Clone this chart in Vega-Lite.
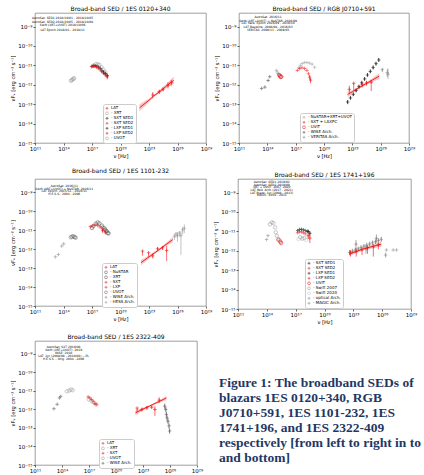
{
  "$schema": "https://vega.github.io/schema/vega-lite/v6.json",
  "padding": {"left": 10, "top": 5, "right": 0, "bottom": 0},
  "config": {
    "font": "DejaVu Sans",
    "view": {"stroke": "#777", "strokeWidth": 0.7},
    "title": {"fontSize": 6, "fontWeight": "normal", "offset": 1, "font": "DejaVu Sans", "color": "#000"},
    "axis": {"labelFontSize": 5.5, "titleFontSize": 5.2, "titleFontWeight": "normal", "grid": false, "domain": false, "tickSize": 2, "tickWidth": 0.6, "labelPadding": 1, "titlePadding": 2, "labelColor": "#000", "titleColor": "#000", "tickColor": "#000", "labelFlush": false},
    "legend": {"fillColor": "white", "strokeColor": "#cccccc", "padding": 2, "cornerRadius": 2, "labelFontSize": 4, "symbolSize": 8, "rowPadding": 0, "clipHeight": 4.6, "symbolStrokeWidth": 0.7, "labelOffset": 2, "labelBaseline": "middle"},
    "point": {"filled": false, "size": 12, "strokeWidth": 0.8}
  },
  "datasets": {
    "b1": [
      {"x": 1e22, "lo": 4.3e-14, "hi": 9.8e-14, "m": 6.5e-14},
      {"x": 1e23, "lo": 1.3e-13, "hi": 1.95e-13, "m": 1.6e-13},
      {"x": 3e23, "lo": 2.3e-13, "hi": 3.0e-13, "m": 2.6e-13},
      {"x": 1e24, "lo": 3.4e-13, "hi": 4.8e-13, "m": 4.0e-13},
      {"x": 1e25, "lo": 7.5e-13, "hi": 1.35e-12, "m": 1.0e-12},
      {"x": 4e25, "lo": 1.1e-12, "hi": 2.6e-12, "m": 1.7e-12}
    ],
    "p1": [
      {"s": "- UVOT", "x": 6e14, "y": 1.6e-12}, {"s": "- UVOT", "x": 7.5e14, "y": 1.75e-12}, {"s": "- UVOT", "x": 9e14, "y": 1.9e-12}, {"s": "- UVOT", "x": 1.1e15, "y": 2.0e-12}, {"s": "- UVOT", "x": 1.3e15, "y": 2.2e-12},
      {"s": "- XRT", "x": 1.5e17, "y": 1.0e-11}, {"s": "- XRT", "x": 2.5e17, "y": 1.15e-11}, {"s": "- XRT", "x": 4e17, "y": 1.15e-11}, {"s": "- XRT", "x": 6e17, "y": 1.05e-11}, {"s": "- XRT", "x": 1e18, "y": 8e-12}, {"s": "- XRT", "x": 1.6e18, "y": 6e-12}, {"s": "- XRT", "x": 2.5e18, "y": 4.5e-12},
      {"s": "- SXT SED1", "x": 1e17, "y": 9e-12}, {"s": "- SXT SED1", "x": 1.5e17, "y": 9.5e-12}, {"s": "- SXT SED1", "x": 2.2e17, "y": 9.5e-12}, {"s": "- SXT SED1", "x": 3.3e17, "y": 9e-12}, {"s": "- SXT SED1", "x": 5e17, "y": 8e-12}, {"s": "- SXT SED1", "x": 7.5e17, "y": 7e-12}, {"s": "- SXT SED1", "x": 1.1e18, "y": 5.5e-12},
      {"s": "- SXT SED2", "x": 9e16, "y": 8.5e-12}, {"s": "- SXT SED2", "x": 1.3e17, "y": 8.8e-12}, {"s": "- SXT SED2", "x": 2e17, "y": 8.8e-12}, {"s": "- SXT SED2", "x": 3e17, "y": 8.2e-12}, {"s": "- SXT SED2", "x": 4.5e17, "y": 7.2e-12}, {"s": "- SXT SED2", "x": 7e17, "y": 6e-12}, {"s": "- SXT SED2", "x": 1e18, "y": 4.8e-12},
      {"s": "- LXP SED1", "x": 1.6e18, "y": 4.5e-12, "lo": 3.8e-12, "hi": 5.2e-12}, {"s": "- LXP SED1", "x": 2.5e18, "y": 3.8e-12, "lo": 3.1e-12, "hi": 4.6e-12}, {"s": "- LXP SED1", "x": 4e18, "y": 3e-12, "lo": 2.3e-12, "hi": 3.8e-12},
      {"s": "- LXP SED2", "x": 1.6e18, "y": 4e-12, "lo": 3.3e-12, "hi": 4.8e-12}, {"s": "- LXP SED2", "x": 2.5e18, "y": 3.3e-12, "lo": 2.6e-12, "hi": 4.1e-12}, {"s": "- LXP SED2", "x": 4e18, "y": 2.6e-12, "lo": 1.9e-12, "hi": 3.4e-12},
      {"s": "LAT", "x": 2.5e23, "y": 3e-13, "lo": 2e-13, "hi": 4.2e-13}, {"s": "LAT", "x": 1.2e24, "y": 4.4e-13, "lo": 3.4e-13, "hi": 5.6e-13}, {"s": "LAT", "x": 3e24, "y": 5.8e-13, "lo": 4.6e-13, "hi": 7.2e-13}, {"s": "LAT", "x": 1e25, "y": 9.5e-13, "lo": 6.5e-13, "hi": 1.35e-12}, {"s": "LAT", "x": 2.2e25, "y": 1.3e-12, "lo": 9e-13, "hi": 1.8e-12}
    ],
    "a1": [
      {"x": 8e13, "y": 2.7e-9, "t": "AstroSat: SED1 2018/10/01 - 2018/10/05"},
      {"x": 8e13, "y": 1.8e-9, "t": "AstroSat: SED2 2018/10/05 - 2018/10/08"},
      {"x": 8e13, "y": 1.17e-9, "t": "Swift (XRT+UVOT) 2018/10/06"},
      {"x": 8e13, "y": 7.2e-10, "t": "LAT Epoch 2018/01 - 2018/11"}
    ],
    "b2": [
      {"x": 3.16e22, "lo": 2.3e-13, "hi": 4.3e-13, "m": 3.16e-13},
      {"x": 1e23, "lo": 3.6e-13, "hi": 5.3e-13, "m": 4.4e-13},
      {"x": 1e24, "lo": 7.5e-13, "hi": 9.7e-13, "m": 8.5e-13},
      {"x": 1e25, "lo": 1.3e-12, "hi": 2.0e-12, "m": 1.62e-12},
      {"x": 7e25, "lo": 2.0e-12, "hi": 3.9e-12, "m": 2.8e-12}
    ],
    "p2": [
      {"s": "LAT Arch.", "x": 3.2e22, "y": 1.3e-13, "lo": 1.0e-13, "hi": 1.65e-13}, {"s": "LAT Arch.", "x": 6.3e22, "y": 2.1e-13, "lo": 1.7e-13, "hi": 2.6e-13}, {"s": "LAT Arch.", "x": 1.26e23, "y": 3.2e-13, "lo": 2.6e-13, "hi": 4.0e-13}, {"s": "LAT Arch.", "x": 2.5e23, "y": 5.1e-13, "lo": 4.1e-13, "hi": 6.4e-13}, {"s": "LAT Arch.", "x": 5e23, "y": 8.1e-13, "lo": 6.5e-13, "hi": 1.0e-12}, {"s": "LAT Arch.", "x": 1e24, "y": 1.26e-12, "lo": 1.0e-12, "hi": 1.6e-12}, {"s": "LAT Arch.", "x": 2e24, "y": 2e-12, "lo": 1.6e-12, "hi": 2.5e-12}, {"s": "LAT Arch.", "x": 4e24, "y": 3.2e-12, "lo": 2.6e-12, "hi": 4.0e-12}, {"s": "LAT Arch.", "x": 8e24, "y": 4.9e-12, "lo": 3.9e-12, "hi": 6.1e-12}, {"s": "LAT Arch.", "x": 1.6e25, "y": 7.8e-12, "lo": 6.2e-12, "hi": 9.8e-12}, {"s": "LAT Arch.", "x": 3.2e25, "y": 1.23e-11, "lo": 9.8e-12, "hi": 1.54e-11}, {"s": "LAT Arch.", "x": 6.3e25, "y": 1.9e-11, "lo": 1.5e-11, "hi": 2.4e-11},
      {"s": "- WISE Arch.", "x": 2.5e13, "y": 6.5e-13}, {"s": "- WISE Arch.", "x": 5.5e13, "y": 7.6e-13}, {"s": "- WISE Arch.", "x": 1.2e14, "y": 1.66e-12}, {"s": "- WISE Arch.", "x": 1.8e14, "y": 2.6e-12},
      {"s": "- NuSTAR+XRT+UVOT", "x": 9e14, "y": 5.5e-12}, {"s": "- NuSTAR+XRT+UVOT", "x": 1.1e15, "y": 4.6e-12}, {"s": "- NuSTAR+XRT+UVOT", "x": 1.4e15, "y": 3.8e-12}, {"s": "- NuSTAR+XRT+UVOT", "x": 1.7e15, "y": 3.4e-12},
      {"s": "- NuSTAR+XRT+UVOT", "x": 2.2e17, "y": 7.6e-12}, {"s": "- NuSTAR+XRT+UVOT", "x": 3.2e17, "y": 1.0e-11}, {"s": "- NuSTAR+XRT+UVOT", "x": 5e17, "y": 1.25e-11}, {"s": "- NuSTAR+XRT+UVOT", "x": 9e17, "y": 1.4e-11}, {"s": "- NuSTAR+XRT+UVOT", "x": 1.6e18, "y": 1.4e-11}, {"s": "- NuSTAR+XRT+UVOT", "x": 3e18, "y": 1.3e-11}, {"s": "- NuSTAR+XRT+UVOT", "x": 5.5e18, "y": 1.15e-11}, {"s": "- NuSTAR+XRT+UVOT", "x": 1e19, "y": 8e-12},
      {"s": "- SXT + LAXPC", "x": 1.5e17, "y": 5.5e-12}, {"s": "- SXT + LAXPC", "x": 2.6e17, "y": 6.9e-12}, {"s": "- SXT + LAXPC", "x": 4.7e17, "y": 7.6e-12}, {"s": "- SXT + LAXPC", "x": 8.9e17, "y": 6.9e-12}, {"s": "- SXT + LAXPC", "x": 1.55e18, "y": 5.5e-12}, {"s": "- SXT + LAXPC", "x": 2.3e18, "y": 3.7e-12}, {"s": "- SXT + LAXPC", "x": 3e18, "y": 2.5e-12, "lo": 1.8e-12, "hi": 3.2e-12}, {"s": "- SXT + LAXPC", "x": 3.8e18, "y": 1.74e-12, "lo": 1.2e-12, "hi": 2.3e-12},
      {"s": "- UVIT", "x": 1.8e15, "y": 3.2e-12}, {"s": "- UVIT", "x": 2.2e15, "y": 2.8e-12}, {"s": "- UVIT", "x": 2.6e15, "y": 2.5e-12}, {"s": "- UVIT", "x": 3e15, "y": 2.6e-12},
      {"s": "- VERITAS Arch.", "x": 1.5e26, "y": 6e-12, "lo": 4.5e-12, "hi": 7.5e-12}, {"s": "- VERITAS Arch.", "x": 5e26, "y": 4.2e-12, "lo": 2.5e-12, "hi": 6.5e-12}, {"s": "- VERITAS Arch.", "x": 6e26, "y": 3.5e-12, "lo": 2e-12, "hi": 7e-12},
      {"s": "LAT", "x": 4.8e22, "y": 5.8e-13, "lo": 3.5e-13, "hi": 9e-13}, {"s": "LAT", "x": 1.4e23, "y": 1.2e-12, "lo": 5e-13, "hi": 1.25e-12}, {"s": "LAT", "x": 1.1e24, "y": 1.0e-12, "lo": 7.5e-13, "hi": 1.3e-12}, {"s": "LAT", "x": 3.2e24, "y": 1.25e-12, "lo": 9e-13, "hi": 1.6e-12}, {"s": "LAT", "x": 1e25, "y": 1.35e-12, "lo": 4.7e-13, "hi": 1.8e-12}
    ],
    "a2": [
      {"x": 1.2e14, "y": 3.2e-9, "t": "AstroSat: 2016/11"},
      {"x": 1.2e14, "y": 2.1e-9, "t": "Swift (XRT+UVOT) + NuSTAR: 2016/09"},
      {"x": 1.2e14, "y": 1.5e-9, "t": "LAT flare: Epoch 2016/09 - 2016/10"},
      {"x": 1.2e14, "y": 1.0e-9, "t": "LAT Baseline: 2008/08 - 2016/03"},
      {"x": 1.2e14, "y": 6.9e-10, "t": "VERITAS: 2008/11 - 2009/03"}
    ],
    "b3": [
      {"x": 1.45e22, "lo": 1.4e-13, "hi": 2.7e-13, "m": 1.95e-13},
      {"x": 1e23, "lo": 3.2e-13, "hi": 4.7e-13, "m": 3.9e-13},
      {"x": 1e24, "lo": 7.8e-13, "hi": 1.02e-12, "m": 8.9e-13},
      {"x": 1e25, "lo": 1.7e-12, "hi": 2.6e-12, "m": 2.1e-12},
      {"x": 3.1e25, "lo": 2.3e-12, "hi": 4.3e-12, "m": 3.16e-12}
    ],
    "p3": [
      {"s": "- WISE Arch.", "x": 1.38e13, "y": 3.9e-13}, {"s": "- WISE Arch.", "x": 2.9e13, "y": 5.2e-13}, {"s": "- WISE Arch.", "x": 6.5e13, "y": 1.45e-12}, {"s": "- WISE Arch.", "x": 1.05e14, "y": 1.9e-12},
      {"s": "- UVOT", "x": 6e14, "y": 4.2e-12}, {"s": "- UVOT", "x": 8e14, "y": 4.6e-12}, {"s": "- UVOT", "x": 1.1e15, "y": 4.8e-12}, {"s": "- UVOT", "x": 1.5e15, "y": 4.3e-12}, {"s": "- UVOT", "x": 1.9e15, "y": 4.0e-12},
      {"s": "- XRT", "x": 1e17, "y": 1.3e-11}, {"s": "- XRT", "x": 1.3e17, "y": 1.6e-11}, {"s": "- XRT", "x": 2.5e17, "y": 2.2e-11}, {"s": "- XRT", "x": 4e17, "y": 2.57e-11}, {"s": "- XRT", "x": 5.9e17, "y": 2.3e-11}, {"s": "- XRT", "x": 1.1e18, "y": 1.74e-11}, {"s": "- XRT", "x": 2e18, "y": 1.26e-11}, {"s": "- XRT", "x": 3e18, "y": 9.3e-12}, {"s": "- XRT", "x": 4.5e18, "y": 6.9e-12},
      {"s": "- NuSTAR", "x": 1.3e18, "y": 1.38e-11}, {"s": "- NuSTAR", "x": 2.5e18, "y": 1.05e-11}, {"s": "- NuSTAR", "x": 3.8e18, "y": 8.5e-12}, {"s": "- NuSTAR", "x": 5.6e18, "y": 6.8e-12},
      {"s": "- SXT", "x": 6.6e16, "y": 1.55e-11}, {"s": "- SXT", "x": 1.2e17, "y": 1.74e-11}, {"s": "- SXT", "x": 2.2e17, "y": 1.9e-11}, {"s": "- SXT", "x": 4e17, "y": 1.74e-11}, {"s": "- SXT", "x": 6.9e17, "y": 1.48e-11}, {"s": "- SXT", "x": 1.3e18, "y": 1.17e-11},
      {"s": "- LXP", "x": 1.3e18, "y": 9.3e-12, "lo": 7.5e-12, "hi": 1.1e-11}, {"s": "- LXP", "x": 2.5e18, "y": 7.9e-12, "lo": 6e-12, "hi": 9.8e-12},
      {"s": "- HESS Arch.", "x": 4.7e25, "y": 4.7e-12, "lo": 3e-12, "hi": 6.5e-12}, {"s": "- HESS Arch.", "x": 7e25, "y": 6.2e-12, "lo": 4e-12, "hi": 8e-12}, {"s": "- HESS Arch.", "x": 1e26, "y": 5.2e-12, "lo": 2.5e-12, "hi": 8e-12}, {"s": "- HESS Arch.", "x": 1.55e26, "y": 6.9e-12, "lo": 4.5e-12, "hi": 9e-12}, {"s": "- HESS Arch.", "x": 2.3e26, "y": 5.2e-12, "lo": 5e-13, "hi": 9e-12}, {"s": "- HESS Arch.", "x": 3.5e26, "y": 1.05e-11, "lo": 6e-12, "hi": 1.5e-11}, {"s": "- HESS Arch.", "x": 5.2e26, "y": 1.26e-11, "lo": 7e-12, "hi": 2e-11},
      {"s": "LAT", "x": 2.1e22, "y": 7.9e-13, "lo": 4.5e-13, "hi": 7.9e-13}, {"s": "LAT", "x": 9e22, "y": 6.5e-13, "lo": 4e-13, "hi": 6.5e-13}, {"s": "LAT", "x": 2.5e23, "y": 4.4e-13, "lo": 3.2e-13, "hi": 6e-13}, {"s": "LAT", "x": 8e23, "y": 1.05e-12, "lo": 8e-13, "hi": 1.3e-12}, {"s": "LAT", "x": 2.7e24, "y": 1.17e-12, "lo": 9e-13, "hi": 1.45e-12}, {"s": "LAT", "x": 7.2e24, "y": 8.5e-13, "lo": 2.4e-13, "hi": 1.5e-12}
    ],
    "a3": [
      {"x": 1.2e14, "y": 2.2e-9, "t": "AstroSat: 2016/11"},
      {"x": 1.2e14, "y": 1.6e-9, "t": "Swift (XRT+UVOT) + NuSTAR: 2016/11"},
      {"x": 1.2e14, "y": 1.17e-9, "t": "LAT Epoch: 2015/11 - 2016/11"},
      {"x": 1.2e14, "y": 8.5e-10, "t": "H.E.S.S.: 2004 - 2006"}
    ],
    "b4": [
      {"x": 3.8e22, "lo": 5.4e-13, "hi": 8.5e-13, "m": 6.8e-13},
      {"x": 1e24, "lo": 1.08e-12, "hi": 1.4e-12, "m": 1.23e-12},
      {"x": 8e25, "lo": 1.6e-12, "hi": 3e-12, "m": 2.2e-12}
    ],
    "p4": [
      {"s": "LAT Arch.", "x": 4e22, "y": 8.3e-13, "lo": 6.2e-13, "hi": 1.1e-12}, {"s": "LAT Arch.", "x": 8e22, "y": 9.5e-13, "lo": 7.1e-13, "hi": 1.26e-12}, {"s": "LAT Arch.", "x": 1.6e23, "y": 1.1e-12, "lo": 8.2e-13, "hi": 1.46e-12}, {"s": "LAT Arch.", "x": 3.2e23, "y": 1.26e-12, "lo": 9.5e-13, "hi": 1.68e-12}, {"s": "LAT Arch.", "x": 6.3e23, "y": 1.48e-12, "lo": 1.1e-12, "hi": 1.97e-12}, {"s": "LAT Arch.", "x": 1.26e24, "y": 1.7e-12, "lo": 1.28e-12, "hi": 2.26e-12}, {"s": "LAT Arch.", "x": 2.5e24, "y": 1.95e-12, "lo": 1.46e-12, "hi": 2.6e-12}, {"s": "LAT Arch.", "x": 5e24, "y": 2.24e-12, "lo": 1.68e-12, "hi": 2.98e-12}, {"s": "LAT Arch.", "x": 1e25, "y": 2.57e-12, "lo": 1.93e-12, "hi": 3.42e-12}, {"s": "LAT Arch.", "x": 2e25, "y": 2.95e-12, "lo": 2.2e-12, "hi": 3.92e-12}, {"s": "LAT Arch.", "x": 4e25, "y": 3.4e-12, "lo": 2.55e-12, "hi": 4.5e-12}, {"s": "LAT Arch.", "x": 8e25, "y": 3.9e-12, "lo": 2.9e-12, "hi": 5.2e-12},
      {"s": "LAT Arch.", "x": 1.9e23, "y": 2.2e-12, "lo": 1.2e-12, "hi": 3.6e-12}, {"s": "LAT Arch.", "x": 2.1e24, "y": 1.23e-12, "lo": 7e-13, "hi": 2e-12}, {"s": "LAT Arch.", "x": 2.5e25, "y": 4.4e-12, "lo": 2.6e-12, "hi": 7e-12},
      {"s": "LAT", "x": 5e22, "y": 8e-13, "lo": 5e-13, "hi": 1.1e-12}, {"s": "LAT", "x": 2e23, "y": 9e-13, "lo": 5e-13, "hi": 1.3e-12}, {"s": "LAT", "x": 8e23, "y": 1.1e-12, "lo": 6e-13, "hi": 1.5e-12}, {"s": "LAT", "x": 3e24, "y": 1.4e-12, "lo": 7e-13, "hi": 1.9e-12}, {"s": "LAT", "x": 1.2e25, "y": 1.6e-12, "lo": 5e-13, "hi": 2.2e-12}, {"s": "LAT", "x": 4e25, "y": 2e-12, "lo": 1.2e-12, "hi": 2.6e-12},
      {"s": "- optical Arch.", "x": 9.5e13, "y": 3.8e-12}, {"s": "- optical Arch.", "x": 1.3e14, "y": 6e-12},
      {"s": "- Swift 2007", "x": 2.1e14, "y": 2.3e-11}, {"s": "- Swift 2007", "x": 3.2e14, "y": 2.9e-11}, {"s": "- Swift 2007", "x": 4.8e14, "y": 2.7e-11}, {"s": "- Swift 2007", "x": 7.2e14, "y": 1.6e-11}, {"s": "- Swift 2007", "x": 8.5e14, "y": 8.9e-12}, {"s": "- Swift 2007", "x": 1.1e15, "y": 5.9e-12},
      {"s": "- Swift 2007", "x": 3e17, "y": 5e-12}, {"s": "- Swift 2007", "x": 5e17, "y": 4.2e-12}, {"s": "- Swift 2007", "x": 8e17, "y": 4.5e-12},
      {"s": "- Swift 2020", "x": 1.4e15, "y": 4.4e-12}, {"s": "- Swift 2020", "x": 1.9e15, "y": 3.7e-12}, {"s": "- Swift 2020", "x": 2.5e15, "y": 3.3e-12}, {"s": "- Swift 2020", "x": 2e17, "y": 4e-12}, {"s": "- Swift 2020", "x": 1.3e18, "y": 3.6e-12},
      {"s": "- UVIT", "x": 1.6e15, "y": 3.7e-12}, {"s": "- UVIT", "x": 2.5e15, "y": 2.9e-12}, {"s": "- UVIT", "x": 3.1e15, "y": 2.5e-12},
      {"s": "- SXT SED1", "x": 1.6e17, "y": 1.1e-11}, {"s": "- SXT SED1", "x": 2.5e17, "y": 1.25e-11}, {"s": "- SXT SED1", "x": 4e17, "y": 1.28e-11}, {"s": "- SXT SED1", "x": 6.3e17, "y": 1.2e-11}, {"s": "- SXT SED1", "x": 1e18, "y": 1.1e-11}, {"s": "- SXT SED1", "x": 1.6e18, "y": 1e-11},
      {"s": "- SXT SED2", "x": 1.6e17, "y": 8.5e-12}, {"s": "- SXT SED2", "x": 2.5e17, "y": 9.5e-12}, {"s": "- SXT SED2", "x": 4e17, "y": 9.5e-12}, {"s": "- SXT SED2", "x": 6.3e17, "y": 8.5e-12}, {"s": "- SXT SED2", "x": 1e18, "y": 7.5e-12},
      {"s": "- LXP SED1", "x": 2e18, "y": 1e-11, "lo": 8e-12, "hi": 1.2e-11}, {"s": "- LXP SED1", "x": 3e18, "y": 8e-12, "lo": 6e-12, "hi": 1e-11},
      {"s": "- LXP SED2", "x": 2e18, "y": 6e-12, "lo": 4e-12, "hi": 8e-12}, {"s": "- LXP SED2", "x": 3e18, "y": 4.5e-12, "lo": 2.5e-12, "hi": 6.5e-12},
      {"s": "- MAGIC Arch.", "x": 2.8e26, "y": 1.1e-12}, {"s": "- MAGIC Arch.", "x": 1.4e27, "y": 1.1e-12}, {"s": "- MAGIC Arch.", "x": 3.1e27, "y": 1.1e-12}, {"s": "- MAGIC Arch.", "x": 2.3e26, "y": 6e-13, "lo": 4.5e-13, "hi": 8e-13}
    ],
    "a4": [
      {"x": 3.2e14, "y": 3.5e-9, "t": "AstroSat: SED1 2019/02"},
      {"x": 3.2e14, "y": 2.6e-9, "t": "AstroSat: SED2 2019/09"},
      {"x": 3.2e14, "y": 1.9e-9, "t": "XRT + UVOT: 2007, 2020"},
      {"x": 3.2e14, "y": 1.4e-9, "t": "LAT Red. Arch (2017 - 2021)"},
      {"x": 3.2e14, "y": 1.0e-9, "t": "LAT Blaze: 1yr (2008 - 2013)"},
      {"x": 3.2e14, "y": 7.4e-10, "t": "MAGIC: 2010 - 2011"}
    ],
    "b5": [
      {"x": 1.45e22, "lo": 4.8e-13, "hi": 9e-13, "m": 6.6e-13},
      {"x": 1e23, "lo": 8.8e-13, "hi": 1.25e-12, "m": 1.05e-12},
      {"x": 1e24, "lo": 1.6e-12, "hi": 1.98e-12, "m": 1.78e-12},
      {"x": 1e25, "lo": 2.5e-12, "hi": 3.6e-12, "m": 3.0e-12},
      {"x": 4e25, "lo": 3.2e-12, "hi": 5.5e-12, "m": 4.2e-12}
    ],
    "p5": [
      {"s": "- WISE Arch.", "x": 1.26e13, "y": 1.1e-12}, {"s": "- WISE Arch.", "x": 2.9e13, "y": 1.9e-12}, {"s": "- WISE Arch.", "x": 5.2e13, "y": 4.2e-12}, {"s": "- WISE Arch.", "x": 7.2e13, "y": 5.1e-12},
      {"s": "- UVOT", "x": 3.5e14, "y": 9.6e-12}, {"s": "- UVOT", "x": 6.3e14, "y": 1.05e-11}, {"s": "- UVOT", "x": 1e15, "y": 1.2e-11}, {"s": "- UVOT", "x": 1.5e15, "y": 1.1e-11},
      {"s": "- XRT", "x": 9.5e16, "y": 3.5e-12}, {"s": "- XRT", "x": 1.9e17, "y": 2.8e-12}, {"s": "- XRT", "x": 3.6e17, "y": 2.3e-12}, {"s": "- XRT", "x": 6.5e17, "y": 1.86e-12},
      {"s": "- SXT", "x": 8e16, "y": 4.8e-12}, {"s": "- SXT", "x": 1.23e17, "y": 4.2e-12}, {"s": "- SXT", "x": 1.86e17, "y": 3.5e-12}, {"s": "- SXT", "x": 2.8e17, "y": 2.8e-12}, {"s": "- SXT", "x": 4.3e17, "y": 2.1e-12}, {"s": "- SXT", "x": 6.5e17, "y": 1.86e-12},
      {"s": "LAT", "x": 2.2e22, "y": 1.2e-12, "lo": 7e-13, "hi": 1.2e-12}, {"s": "LAT", "x": 7.6e22, "y": 1e-12, "lo": 8e-13, "hi": 1.25e-12}, {"s": "LAT", "x": 2.7e23, "y": 1.23e-12, "lo": 1e-12, "hi": 1.5e-12}, {"s": "LAT", "x": 9.3e23, "y": 1.32e-12, "lo": 1.1e-12, "hi": 1.6e-12}, {"s": "LAT", "x": 2.1e24, "y": 1e-12, "lo": 4.4e-13, "hi": 1.5e-12}, {"s": "LAT", "x": 6.3e24, "y": 3.2e-12, "lo": 2.2e-12, "hi": 4.5e-12},
      {"s": "HESS", "x": 2.6e25, "y": 1.5e-12, "lo": 1.05e-12, "hi": 2.1e-12}, {"s": "HESS", "x": 3.4e25, "y": 1e-12, "lo": 7e-13, "hi": 1.4e-12}, {"s": "HESS", "x": 4e25, "y": 5.4e-13, "lo": 3.8e-13, "hi": 7.6e-13}, {"s": "HESS", "x": 4.7e25, "y": 3.5e-13, "lo": 2.45e-13, "hi": 4.9e-13}, {"s": "HESS", "x": 6e25, "y": 2.3e-13, "lo": 1.6e-13, "hi": 3.2e-13}, {"s": "HESS", "x": 7.8e25, "y": 1.3e-13, "lo": 9e-14, "hi": 1.8e-13}, {"s": "HESS", "x": 9.1e25, "y": 6.9e-14, "lo": 4.8e-14, "hi": 9.7e-14}
    ],
    "a5": [
      {"x": 1.5e14, "y": 2.45e-9, "t": "AstroSat: SXT 2019/08"},
      {"x": 1.5e14, "y": 1.6e-9, "t": "Swift (XRT+UVOT): 2019"},
      {"x": 1.5e14, "y": 1.17e-9, "t": "WISE: 2010"},
      {"x": 1.5e14, "y": 8.1e-10, "t": "LAT: 2yr (2008/08 - 2010/08) ---PL"},
      {"x": 1.5e14, "y": 5.6e-10, "t": "H.E.S.S. - Orig: 2004 - 2006"}
    ],
    "cap": [
      {"ln": 0, "t": "Figure 1:  The broadband SEDs of"},
      {"ln": 1, "t": "blazars 1ES 0120+340, RGB"},
      {"ln": 2, "t": "J0710+591, 1ES 1101-232, 1ES"},
      {"ln": 3, "t": "1741+196, and 1ES 2322-409"},
      {"ln": 4, "t": "respectively [from left to right in top"},
      {"ln": 5, "t": "and bottom]"}
    ]
  },
  "spacing": 7,
  "resolve": {"scale": {"color": "independent", "shape": "independent"}, "legend": {"color": "independent", "shape": "independent"}},
  "vconcat": [
    {
      "spacing": 1,
      "resolve": {"scale": {"color": "independent", "shape": "independent"}, "legend": {"color": "independent", "shape": "independent"}},
      "hconcat": [
        {
          "title": "Broad-band SED / 1ES 0120+340",
          "width": 171, "height": 130,
          "encoding": {"x": {"field": "x", "type": "quantitative", "title": "ν [Hz]", "scale": {"type": "log", "domain": [1e11, 1e29], "nice": false}, "axis": {"values": [1e11, 1e14, 1e17, 1e20, 1e23, 1e26, 1e29], "labelExpr": "['10¹¹','','','10¹⁴','','','10¹⁷','','','10²⁰','','','10²³','','','10²⁶','','','10²⁹'][round(log(datum.value)/LN10)-11]"}}},
          "layer": [
            {"data": {"name": "b1"}, "mark": {"type": "area", "color": "#ffb0b0", "opacity": 0.8, "clip": true}, "encoding": {"y": {"field": "lo", "type": "quantitative", "title": "νFᵥ [erg cm⁻² s⁻¹]", "scale": {"type": "log", "domain": [1e-15, 5e-9], "nice": false}, "axis": {"values": [1e-15, 1e-14, 1e-13, 1e-12, 1e-11, 1e-10, 1e-9], "labelExpr": "['10⁻¹⁵','10⁻¹⁴','10⁻¹³','10⁻¹²','10⁻¹¹','10⁻¹⁰','10⁻⁹'][round(log(datum.value)/LN10)+15]"}}, "y2": {"field": "hi"}}},
            {"data": {"name": "b1"}, "mark": {"type": "line", "color": "#ee1111", "strokeWidth": 0.9, "clip": true}, "encoding": {"y": {"field": "m", "type": "quantitative", "title": "νFᵥ [erg cm⁻² s⁻¹]", "scale": {"type": "log", "domain": [1e-15, 5e-9], "nice": false}}}},
            {"data": {"name": "p1"}, "mark": {"type": "point", "clip": true}, "encoding": {
              "y": {"field": "y", "type": "quantitative", "title": "νFᵥ [erg cm⁻² s⁻¹]", "scale": {"type": "log", "domain": [1e-15, 5e-9], "nice": false}},
              "color": {"field": "s", "type": "nominal", "scale": {"domain": ["LAT", "- XRT", "- SXT SED1", "- SXT SED2", "- LXP SED1", "- LXP SED2", "- UVOT"], "range": ["#ee1111", "#a0a0a0", "#111111", "#ee1111", "#111111", "#ee1111", "#a0a0a0"]}, "legend": {"title": null, "orient": "none", "legendX": 68, "legendY": 91}},
              "shape": {"field": "s", "type": "nominal", "scale": {"domain": ["LAT", "- XRT", "- SXT SED1", "- SXT SED2", "- LXP SED1", "- LXP SED2", "- UVOT"], "range": ["M-1,0H1M0,-1V1", "circle", "M-1,0H1M0,-1V1", "M-1,0H1M0,-1V1", "M-1,0H1M0,-1V1", "M-1,0H1M0,-1V1", "circle"]}, "legend": {"title": null, "orient": "none", "legendX": 68, "legendY": 91}}}},
            {"data": {"name": "p1"}, "transform": [{"filter": "isValid(datum.lo)"}], "mark": {"type": "rule", "strokeWidth": 0.6, "clip": true}, "encoding": {
              "y": {"field": "lo", "type": "quantitative", "title": "νFᵥ [erg cm⁻² s⁻¹]", "scale": {"type": "log", "domain": [1e-15, 5e-9], "nice": false}}, "y2": {"field": "hi"},
              "color": {"field": "s", "type": "nominal", "scale": {"domain": ["LAT", "- XRT", "- SXT SED1", "- SXT SED2", "- LXP SED1", "- LXP SED2", "- UVOT"], "range": ["#ee1111", "#a0a0a0", "#111111", "#ee1111", "#111111", "#ee1111", "#a0a0a0"]}}}},
            {"data": {"name": "a1"}, "mark": {"type": "text", "fontSize": 3, "align": "center", "color": "#000"}, "encoding": {"y": {"field": "y", "type": "quantitative", "title": "νFᵥ [erg cm⁻² s⁻¹]", "scale": {"type": "log", "domain": [1e-15, 5e-9], "nice": false}}, "text": {"field": "t"}}}
          ]
        },
        {
          "title": "Broad-band SED / RGB J0710+591",
          "width": 170, "height": 130,
          "encoding": {"x": {"field": "x", "type": "quantitative", "title": "ν [Hz]", "scale": {"type": "log", "domain": [1e11, 1e29], "nice": false}, "axis": {"values": [1e11, 1e14, 1e17, 1e20, 1e23, 1e26, 1e29], "labelExpr": "['10¹¹','','','10¹⁴','','','10¹⁷','','','10²⁰','','','10²³','','','10²⁶','','','10²⁹'][round(log(datum.value)/LN10)-11]"}}},
          "layer": [
            {"data": {"name": "b2"}, "mark": {"type": "area", "color": "#ffb0b0", "opacity": 0.8, "clip": true}, "encoding": {"y": {"field": "lo", "type": "quantitative", "title": "νFᵥ [erg cm⁻² s⁻¹]", "scale": {"type": "log", "domain": [1e-15, 5e-9], "nice": false}, "axis": {"values": [1e-15, 1e-14, 1e-13, 1e-12, 1e-11, 1e-10, 1e-9], "labelExpr": "['10⁻¹⁵','10⁻¹⁴','10⁻¹³','10⁻¹²','10⁻¹¹','10⁻¹⁰','10⁻⁹'][round(log(datum.value)/LN10)+15]"}}, "y2": {"field": "hi"}}},
            {"data": {"name": "p2"}, "mark": {"type": "point", "clip": true}, "encoding": {
              "y": {"field": "y", "type": "quantitative", "title": "νFᵥ [erg cm⁻² s⁻¹]", "scale": {"type": "log", "domain": [1e-15, 5e-9], "nice": false}},
              "color": {"field": "s", "type": "nominal", "scale": {"domain": ["- NuSTAR+XRT+UVOT", "- SXT + LAXPC", "- UVIT", "- WISE Arch.", "- VERITAS Arch.", "LAT", "LAT Arch."], "range": ["#a0a0a0", "#ee1111", "#ee1111", "#444444", "#888888", "#ee1111", "#111111"]}, "legend": {"title": null, "orient": "none", "legendX": 61, "legendY": 100, "values": ["- NuSTAR+XRT+UVOT", "- SXT + LAXPC", "- UVIT", "- WISE Arch.", "- VERITAS Arch."]}},
              "shape": {"field": "s", "type": "nominal", "scale": {"domain": ["- NuSTAR+XRT+UVOT", "- SXT + LAXPC", "- UVIT", "- WISE Arch.", "- VERITAS Arch.", "LAT", "LAT Arch."], "range": ["M-1,0H1M0,-1V1", "M-1,0H1M0,-1V1", "circle", "M-1,0H1M0,-1V1", "M-1,0H1M0,-1V1", "M-1,0H1M0,-1V1", "M-1,0H1M0,-1V1"]}, "legend": {"title": null, "orient": "none", "legendX": 61, "legendY": 100, "values": ["- NuSTAR+XRT+UVOT", "- SXT + LAXPC", "- UVIT", "- WISE Arch.", "- VERITAS Arch."]}}}},
            {"data": {"name": "p2"}, "transform": [{"filter": "isValid(datum.lo)"}], "mark": {"type": "rule", "strokeWidth": 0.6, "clip": true}, "encoding": {
              "y": {"field": "lo", "type": "quantitative", "title": "νFᵥ [erg cm⁻² s⁻¹]", "scale": {"type": "log", "domain": [1e-15, 5e-9], "nice": false}}, "y2": {"field": "hi"},
              "color": {"field": "s", "type": "nominal", "scale": {"domain": ["- NuSTAR+XRT+UVOT", "- SXT + LAXPC", "- UVIT", "- WISE Arch.", "- VERITAS Arch.", "LAT", "LAT Arch."], "range": ["#a0a0a0", "#ee1111", "#ee1111", "#444444", "#888888", "#ee1111", "#111111"]}}}},
            {"data": {"name": "b2"}, "mark": {"type": "line", "color": "#ee1111", "strokeWidth": 0.9, "clip": true}, "encoding": {"y": {"field": "m", "type": "quantitative", "title": "νFᵥ [erg cm⁻² s⁻¹]", "scale": {"type": "log", "domain": [1e-15, 5e-9], "nice": false}}}},
            {"data": {"name": "a2"}, "mark": {"type": "text", "fontSize": 3, "align": "center", "color": "#000"}, "encoding": {"y": {"field": "y", "type": "quantitative", "title": "νFᵥ [erg cm⁻² s⁻¹]", "scale": {"type": "log", "domain": [1e-15, 5e-9], "nice": false}}, "text": {"field": "t"}}}
          ]
        }
      ]
    },
    {
      "spacing": 0,
      "resolve": {"scale": {"color": "independent", "shape": "independent"}, "legend": {"color": "independent", "shape": "independent"}},
      "hconcat": [
        {
          "title": {"text": "Broad-band SED / 1ES 1101-232", "offset": 5},
          "width": 171, "height": 127,
          "encoding": {"x": {"field": "x", "type": "quantitative", "title": "ν [Hz]", "scale": {"type": "log", "domain": [1e11, 1e29], "nice": false}, "axis": {"values": [1e11, 1e14, 1e17, 1e20, 1e23, 1e26, 1e29], "labelExpr": "['10¹¹','','','10¹⁴','','','10¹⁷','','','10²⁰','','','10²³','','','10²⁶','','','10²⁹'][round(log(datum.value)/LN10)-11]"}}},
          "layer": [
            {"data": {"name": "b3"}, "mark": {"type": "area", "color": "#ffb0b0", "opacity": 0.8, "clip": true}, "encoding": {"y": {"field": "lo", "type": "quantitative", "title": "νFᵥ [erg cm⁻² s⁻¹]", "scale": {"type": "log", "domain": [1e-15, 5e-9], "nice": false}, "axis": {"values": [1e-15, 1e-14, 1e-13, 1e-12, 1e-11, 1e-10, 1e-9], "labelExpr": "['10⁻¹⁵','10⁻¹⁴','10⁻¹³','10⁻¹²','10⁻¹¹','10⁻¹⁰','10⁻⁹'][round(log(datum.value)/LN10)+15]"}}, "y2": {"field": "hi"}}},
            {"data": {"name": "b3"}, "mark": {"type": "line", "color": "#ee1111", "strokeWidth": 0.9, "clip": true}, "encoding": {"y": {"field": "m", "type": "quantitative", "title": "νFᵥ [erg cm⁻² s⁻¹]", "scale": {"type": "log", "domain": [1e-15, 5e-9], "nice": false}}}},
            {"data": {"name": "p3"}, "mark": {"type": "point", "clip": true}, "encoding": {
              "y": {"field": "y", "type": "quantitative", "title": "νFᵥ [erg cm⁻² s⁻¹]", "scale": {"type": "log", "domain": [1e-15, 5e-9], "nice": false}},
              "color": {"field": "s", "type": "nominal", "scale": {"domain": ["LAT", "- NuSTAR", "- XRT", "- SXT", "- LXP", "- UVOT", "- WISE Arch.", "- HESS Arch."], "range": ["#ee1111", "#555555", "#555555", "#ee1111", "#ee1111", "#666666", "#888888", "#999999"]}, "legend": {"title": null, "orient": "none", "legendX": 67, "legendY": 84}},
              "shape": {"field": "s", "type": "nominal", "scale": {"domain": ["LAT", "- NuSTAR", "- XRT", "- SXT", "- LXP", "- UVOT", "- WISE Arch.", "- HESS Arch."], "range": ["M-1,0H1M0,-1V1", "circle", "circle", "M-1,0H1M0,-1V1", "M-1,0H1M0,-1V1", "circle", "M-1,0H1M0,-1V1", "M-1,0H1M0,-1V1"]}, "legend": {"title": null, "orient": "none", "legendX": 67, "legendY": 84}}}},
            {"data": {"name": "p3"}, "transform": [{"filter": "isValid(datum.lo)"}], "mark": {"type": "rule", "strokeWidth": 0.6, "clip": true}, "encoding": {
              "y": {"field": "lo", "type": "quantitative", "title": "νFᵥ [erg cm⁻² s⁻¹]", "scale": {"type": "log", "domain": [1e-15, 5e-9], "nice": false}}, "y2": {"field": "hi"},
              "color": {"field": "s", "type": "nominal", "scale": {"domain": ["LAT", "- NuSTAR", "- XRT", "- SXT", "- LXP", "- UVOT", "- WISE Arch.", "- HESS Arch."], "range": ["#ee1111", "#555555", "#555555", "#ee1111", "#ee1111", "#666666", "#888888", "#999999"]}}}},
            {"data": {"name": "a3"}, "mark": {"type": "text", "fontSize": 3, "align": "center", "color": "#000"}, "encoding": {"y": {"field": "y", "type": "quantitative", "title": "νFᵥ [erg cm⁻² s⁻¹]", "scale": {"type": "log", "domain": [1e-15, 5e-9], "nice": false}}, "text": {"field": "t"}}}
          ]
        },
        {
          "title": "Broad-band SED / 1ES 1741+196",
          "width": 173, "height": 130,
          "encoding": {"x": {"field": "x", "type": "quantitative", "title": "ν [Hz]", "scale": {"type": "log", "domain": [1e11, 1e29], "nice": false}, "axis": {"values": [1e11, 1e14, 1e17, 1e20, 1e23, 1e26, 1e29], "labelExpr": "['10¹¹','','','10¹⁴','','','10¹⁷','','','10²⁰','','','10²³','','','10²⁶','','','10²⁹'][round(log(datum.value)/LN10)-11]"}}},
          "layer": [
            {"data": {"name": "b4"}, "mark": {"type": "area", "color": "#ffb0b0", "opacity": 0.8, "clip": true}, "encoding": {"y": {"field": "lo", "type": "quantitative", "title": "νFᵥ [erg cm⁻² s⁻¹]", "scale": {"type": "log", "domain": [1e-15, 5e-9], "nice": false}, "axis": {"values": [1e-15, 1e-14, 1e-13, 1e-12, 1e-11, 1e-10, 1e-9], "labelExpr": "['10⁻¹⁵','10⁻¹⁴','10⁻¹³','10⁻¹²','10⁻¹¹','10⁻¹⁰','10⁻⁹'][round(log(datum.value)/LN10)+15]"}}, "y2": {"field": "hi"}}},
            {"data": {"name": "p4"}, "mark": {"type": "point", "clip": true}, "encoding": {
              "y": {"field": "y", "type": "quantitative", "title": "νFᵥ [erg cm⁻² s⁻¹]", "scale": {"type": "log", "domain": [1e-15, 5e-9], "nice": false}},
              "color": {"field": "s", "type": "nominal", "scale": {"domain": ["- SXT SED1", "- SXT SED2", "- LXP SED1", "- LXP SED2", "- UVIT", "- Swift 2007", "- Swift 2020", "- optical Arch.", "- MAGIC Arch.", "LAT", "LAT Arch."], "range": ["#111111", "#ee1111", "#111111", "#ee1111", "#ee1111", "#999999", "#c8c8c8", "#888888", "#888888", "#ee1111", "#777777"]}, "legend": {"title": null, "orient": "none", "legendX": 67, "legendY": 80, "values": ["- SXT SED1", "- SXT SED2", "- LXP SED1", "- LXP SED2", "- UVIT", "- Swift 2007", "- Swift 2020", "- optical Arch.", "- MAGIC Arch."]}},
              "shape": {"field": "s", "type": "nominal", "scale": {"domain": ["- SXT SED1", "- SXT SED2", "- LXP SED1", "- LXP SED2", "- UVIT", "- Swift 2007", "- Swift 2020", "- optical Arch.", "- MAGIC Arch.", "LAT", "LAT Arch."], "range": ["M-1,0H1M0,-1V1", "M-1,0H1M0,-1V1", "M-1,0H1M0,-1V1", "M-1,0H1M0,-1V1", "circle", "circle", "circle", "M-1,0H1M0,-1V1", "M-1,0H1M0,-1V1", "M-1,0H1M0,-1V1", "M-1,0H1M0,-1V1"]}, "legend": {"title": null, "orient": "none", "legendX": 67, "legendY": 80, "values": ["- SXT SED1", "- SXT SED2", "- LXP SED1", "- LXP SED2", "- UVIT", "- Swift 2007", "- Swift 2020", "- optical Arch.", "- MAGIC Arch."]}}}},
            {"data": {"name": "p4"}, "transform": [{"filter": "isValid(datum.lo)"}], "mark": {"type": "rule", "strokeWidth": 0.6, "clip": true}, "encoding": {
              "y": {"field": "lo", "type": "quantitative", "title": "νFᵥ [erg cm⁻² s⁻¹]", "scale": {"type": "log", "domain": [1e-15, 5e-9], "nice": false}}, "y2": {"field": "hi"},
              "color": {"field": "s", "type": "nominal", "scale": {"domain": ["- SXT SED1", "- SXT SED2", "- LXP SED1", "- LXP SED2", "- UVIT", "- Swift 2007", "- Swift 2020", "- optical Arch.", "- MAGIC Arch.", "LAT", "LAT Arch."], "range": ["#111111", "#ee1111", "#111111", "#ee1111", "#ee1111", "#999999", "#c8c8c8", "#888888", "#888888", "#ee1111", "#777777"]}}}},
            {"data": {"name": "b4"}, "mark": {"type": "line", "color": "#ee1111", "strokeWidth": 0.9, "clip": true}, "encoding": {"y": {"field": "m", "type": "quantitative", "title": "νFᵥ [erg cm⁻² s⁻¹]", "scale": {"type": "log", "domain": [1e-15, 5e-9], "nice": false}}}},
            {"data": {"name": "a4"}, "mark": {"type": "text", "fontSize": 3, "align": "center", "color": "#000"}, "encoding": {"y": {"field": "y", "type": "quantitative", "title": "νFᵥ [erg cm⁻² s⁻¹]", "scale": {"type": "log", "domain": [1e-15, 5e-9], "nice": false}}, "text": {"field": "t"}}}
          ]
        }
      ]
    },
    {
      "spacing": 15,
      "resolve": {"scale": {"color": "independent", "shape": "independent"}, "legend": {"color": "independent", "shape": "independent"}},
      "hconcat": [
        {
          "title": "Broad-band SED / 1ES 2322-409",
          "width": 162, "height": 124,
          "encoding": {"x": {"field": "x", "type": "quantitative", "title": "ν [Hz]", "scale": {"type": "log", "domain": [1e11, 1e29], "nice": false}, "axis": {"values": [1e11, 1e14, 1e17, 1e20, 1e23, 1e26, 1e29], "labelExpr": "['10¹¹','','','10¹⁴','','','10¹⁷','','','10²⁰','','','10²³','','','10²⁶','','','10²⁹'][round(log(datum.value)/LN10)-11]"}}},
          "layer": [
            {"data": {"name": "b5"}, "mark": {"type": "area", "color": "#ffb0b0", "opacity": 0.8, "clip": true}, "encoding": {"y": {"field": "lo", "type": "quantitative", "title": "νFᵥ [erg cm⁻² s⁻¹]", "scale": {"type": "log", "domain": [1e-15, 5e-9], "nice": false}, "axis": {"values": [1e-15, 1e-14, 1e-13, 1e-12, 1e-11, 1e-10, 1e-9], "labelExpr": "['10⁻¹⁵','10⁻¹⁴','10⁻¹³','10⁻¹²','10⁻¹¹','10⁻¹⁰','10⁻⁹'][round(log(datum.value)/LN10)+15]"}}, "y2": {"field": "hi"}}},
            {"data": {"name": "b5"}, "mark": {"type": "line", "color": "#ee1111", "strokeWidth": 0.9, "clip": true}, "encoding": {"y": {"field": "m", "type": "quantitative", "title": "νFᵥ [erg cm⁻² s⁻¹]", "scale": {"type": "log", "domain": [1e-15, 5e-9], "nice": false}}}},
            {"data": {"name": "p5"}, "mark": {"type": "point", "clip": true}, "encoding": {
              "y": {"field": "y", "type": "quantitative", "title": "νFᵥ [erg cm⁻² s⁻¹]", "scale": {"type": "log", "domain": [1e-15, 5e-9], "nice": false}},
              "color": {"field": "s", "type": "nominal", "scale": {"domain": ["LAT", "- XRT", "- SXT", "- UVOT", "- WISE Arch.", "HESS"], "range": ["#ee1111", "#a0a0a0", "#ee1111", "#a0a0a0", "#555555", "#555555"]}, "legend": {"title": null, "orient": "none", "legendX": 64, "legendY": 98, "values": ["LAT", "- XRT", "- SXT", "- UVOT", "- WISE Arch."]}},
              "shape": {"field": "s", "type": "nominal", "scale": {"domain": ["LAT", "- XRT", "- SXT", "- UVOT", "- WISE Arch.", "HESS"], "range": ["M-1,0H1M0,-1V1", "circle", "M-1,0H1M0,-1V1", "circle", "M-1,0H1M0,-1V1", "M-1,0H1M0,-1V1"]}, "legend": {"title": null, "orient": "none", "legendX": 64, "legendY": 98, "values": ["LAT", "- XRT", "- SXT", "- UVOT", "- WISE Arch."]}}}},
            {"data": {"name": "p5"}, "transform": [{"filter": "isValid(datum.lo)"}], "mark": {"type": "rule", "strokeWidth": 0.6, "clip": true}, "encoding": {
              "y": {"field": "lo", "type": "quantitative", "title": "νFᵥ [erg cm⁻² s⁻¹]", "scale": {"type": "log", "domain": [1e-15, 5e-9], "nice": false}}, "y2": {"field": "hi"},
              "color": {"field": "s", "type": "nominal", "scale": {"domain": ["LAT", "- XRT", "- SXT", "- UVOT", "- WISE Arch.", "HESS"], "range": ["#ee1111", "#a0a0a0", "#ee1111", "#a0a0a0", "#555555", "#555555"]}}}},
            {"data": {"name": "a5"}, "mark": {"type": "text", "fontSize": 3, "align": "center", "color": "#000"}, "encoding": {"y": {"field": "y", "type": "quantitative", "title": "νFᵥ [erg cm⁻² s⁻¹]", "scale": {"type": "log", "domain": [1e-15, 5e-9], "nice": false}}, "text": {"field": "t"}}}
          ]
        },
        {
          "width": 204, "height": 140,
          "view": {"stroke": null},
          "data": {"name": "cap"},
          "mark": {"type": "text", "align": "left", "baseline": "middle", "font": "Liberation Serif", "fontWeight": "bold", "fontSize": 13.5, "color": "#1f3864", "limit": 206, "ellipsis": " "},
          "encoding": {
            "x": {"datum": 0, "type": "quantitative", "scale": {"domain": [0, 1]}, "axis": null},
            "y": {"field": "ln", "type": "quantitative", "scale": {"domain": [-2.8, 6.53], "reverse": true}, "axis": null},
            "text": {"field": "t"}
          }
        }
      ]
    }
  ]
}
